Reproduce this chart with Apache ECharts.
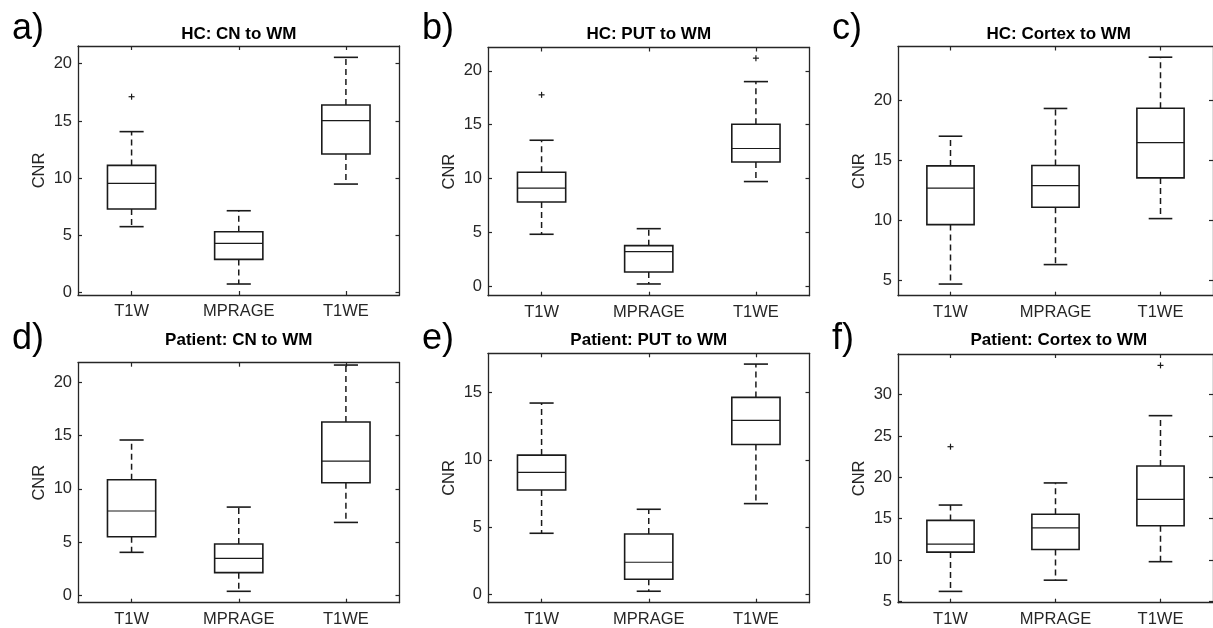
<!DOCTYPE html>
<html>
<head>
<meta charset="utf-8">
<script src="https://cdn.jsdelivr.net/npm/echarts@6/dist/echarts.min.js"></script>
<style>
html,body{margin:0;padding:0;background:#fff;}
#chart{width:1213px;height:628px;}
</style>
</head>
<body>
<div id="chart"></div>
<script>
// ---- data ----
const categories = ['T1W', 'MPRAGE', 'T1WE'];
const panelTitles = ['HC: CN to WM', 'HC: PUT to WM', 'HC: Cortex to WM',
                     'Patient: CN to WM', 'Patient: PUT to WM', 'Patient: Cortex to WM'];
const panelLetters = ['a)', 'b)', 'c)', 'd)', 'e)', 'f)'];
// box stats per category: [lower whisker, Q1, median, Q3, upper whisker]
const hcCN = [[5.77, 7.31, 9.55, 11.12, 14.07], [0.76, 2.91, 4.31, 5.33, 7.16], [9.49, 12.11, 15.03, 16.39, 20.56]];
const hcPUT = [[4.81, 7.81, 9.09, 10.57, 13.55], [0.19, 1.30, 3.19, 3.75, 5.33], [9.71, 11.53, 12.78, 15.04, 19.00]];
const hcCortex = [[4.69, 9.64, 12.67, 14.53, 17.00], [6.31, 11.08, 12.89, 14.56, 19.31], [10.14, 13.53, 16.47, 19.33, 23.58]];
const ptCN = [[4.04, 5.51, 7.92, 10.86, 14.59], [0.38, 2.13, 3.47, 4.82, 8.29], [6.85, 10.58, 12.61, 16.28, 21.63]];
const ptPUT = [[4.55, 7.76, 9.07, 10.35, 14.21], [0.25, 1.14, 2.40, 4.50, 6.33], [6.75, 11.14, 12.92, 14.63, 17.10]];
const ptCortex = [[6.17, 10.93, 11.90, 14.77, 16.63], [7.53, 11.24, 13.86, 15.52, 19.31], [9.77, 14.13, 17.32, 21.36, 27.46]];
// outliers: [category index, value]
const hcCNOut = [[0, 17.12]];
const hcPUTOut = [[0, 17.77], [2, 21.18]];
const hcCortexOut = [];
const ptCNOut = [];
const ptPUTOut = [];
const ptCortexOut = [[0, 23.70], [2, 33.55]];
// y axis limits and tick labels
const yLimits = [[-0.2, 21.55], [-0.9, 22.17], [3.72, 24.47], [-0.69, 21.85], [-0.6, 17.9], [4.8, 34.93]];
const yTicks = [[0, 5, 10, 15, 20], [0, 5, 10, 15, 20], [5, 10, 15, 20], [0, 5, 10, 15, 20], [0, 5, 10, 15], [5, 10, 15, 20, 25, 30]];

const stats = [hcCN, hcPUT, hcCortex, ptCN, ptPUT, ptCortex];
const outs = [hcCNOut, hcPUTOut, hcCortexOut, ptCNOut, ptPUTOut, ptCortexOut];

// ---- layout ----
const grids = [
  {left: 78, top: 46, width: 321.5, height: 249},
  {left: 488, top: 47.5, width: 321.5, height: 248.2},
  {left: 898, top: 46.5, width: 321.5, height: 249.2},
  {left: 78, top: 362.7, width: 321.5, height: 240},
  {left: 488, top: 353.3, width: 321.5, height: 249.4},
  {left: 898, top: 354, width: 321.5, height: 248.7}
];
const FONT = '"Liberation Sans", Arial, Helvetica, sans-serif';
const INK = '#1a1a1a';
const AX = '#262626';

const chart = echarts.init(document.getElementById('chart'), null, {renderer: 'canvas'});

const xAxes = [], yAxes = [], series = [], graphics = [];
grids.forEach((g, i) => {
  const common = {gridIndex: i, type: 'category', data: categories, boundaryGap: true,
    axisLine: {show: true, onZero: false, lineStyle: {color: AX, width: 1.3}},
    axisTick: {show: true, inside: true, alignWithLabel: true, length: 4, lineStyle: {color: AX, width: 1.2}},
    splitLine: {show: false}};
  xAxes.push(Object.assign({}, common, {position: 'bottom',
    axisLabel: {show: true, fontSize: 16.5, color: AX, margin: 8, fontFamily: FONT}}));
  xAxes.push(Object.assign({}, common, {position: 'top', axisLabel: {show: false}}));
  const yc = {gridIndex: i, type: 'value', min: yLimits[i][0], max: yLimits[i][1],
    axisLine: {show: true, onZero: false, lineStyle: {color: AX, width: 1.3}},
    axisTick: {show: true, inside: true, length: 4, customValues: yTicks[i], lineStyle: {color: AX, width: 1.2}},
    splitLine: {show: false}};
  yAxes.push(Object.assign({}, yc, {position: 'left',
    axisLabel: {show: true, customValues: yTicks[i], fontSize: 16.5, color: AX, margin: 6, fontFamily: FONT},
    name: 'CNR', nameLocation: 'middle', nameGap: 30,
    nameTextStyle: {fontSize: 16.5, color: AX, fontFamily: FONT}}));
  yAxes.push(Object.assign({}, yc, {position: 'right', axisLabel: {show: false}}));

  const boxData = stats[i].map((s, k) => [k].concat(s));
  series.push({
    type: 'custom', xAxisIndex: 2 * i, yAxisIndex: 2 * i, clip: false,
    encode: {x: 0, y: [1, 2, 3, 4, 5]},
    data: boxData,
    renderItem: function (params, api) {
      const idx = api.value(0);
      const band = api.size([1, 0])[0];
      const hw = band * 0.225, cw = band * 0.1125;
      const pMin = api.coord([idx, api.value(1)]);
      const pQ1 = api.coord([idx, api.value(2)]);
      const pMed = api.coord([idx, api.value(3)]);
      const pQ3 = api.coord([idx, api.value(4)]);
      const pMax = api.coord([idx, api.value(5)]);
      const x = pMin[0];
      const dash = {stroke: INK, lineWidth: 1.5, lineDash: [6, 4], fill: null};
      const solid = {stroke: INK, lineWidth: 1.6, fill: null};
      return {type: 'group', children: [
        {type: 'line', shape: {x1: x, y1: pQ3[1], x2: x, y2: pMax[1]}, style: dash},
        {type: 'line', shape: {x1: x, y1: pQ1[1], x2: x, y2: pMin[1]}, style: dash},
        {type: 'line', shape: {x1: x - cw, y1: pMax[1], x2: x + cw, y2: pMax[1]}, style: solid},
        {type: 'line', shape: {x1: x - cw, y1: pMin[1], x2: x + cw, y2: pMin[1]}, style: solid},
        {type: 'rect', shape: {x: x - hw, y: pQ3[1], width: 2 * hw, height: pQ1[1] - pQ3[1]},
          style: {stroke: INK, lineWidth: 1.6, fill: 'none'}},
        {type: 'line', shape: {x1: x - hw, y1: pMed[1], x2: x + hw, y2: pMed[1]},
          style: {stroke: INK, lineWidth: 1.2}}
      ]};
    }
  });
  if (outs[i].length) {
    series.push({
      type: 'custom', xAxisIndex: 2 * i, yAxisIndex: 2 * i, clip: false,
      encode: {x: 0, y: 1},
      data: outs[i],
      renderItem: function (params, api) {
        const p = api.coord([api.value(0), api.value(1)]);
        const s = 3;
        const st = {stroke: INK, lineWidth: 1.2};
        return {type: 'group', children: [
          {type: 'line', shape: {x1: p[0] - s, y1: p[1], x2: p[0] + s, y2: p[1]}, style: st},
          {type: 'line', shape: {x1: p[0], y1: p[1] - s, x2: p[0], y2: p[1] + s}, style: st}
        ]};
      }
    });
  }
  const topRow = i < 3;
  graphics.push({type: 'text', x: g.left + g.width / 2, y: topRow ? 34 : 340.3,
    style: {text: panelTitles[i], font: 'bold 17px ' + FONT, fill: '#000',
      textAlign: 'center', textVerticalAlign: 'middle'}});
  const lx = [12, 422, 832][i % 3];
  graphics.push({type: 'text', x: lx, y: topRow ? 29 : 339,
    style: {text: panelLetters[i], font: '36px ' + FONT, fill: '#000',
      textAlign: 'left', textVerticalAlign: 'middle'}});
});

chart.setOption({
  animation: false,
  backgroundColor: '#fff',
  grid: grids.map(g => Object.assign({containLabel: false}, g)),
  xAxis: xAxes,
  yAxis: yAxes,
  series: series,
  graphic: graphics
});
</script>
</body>
</html>
